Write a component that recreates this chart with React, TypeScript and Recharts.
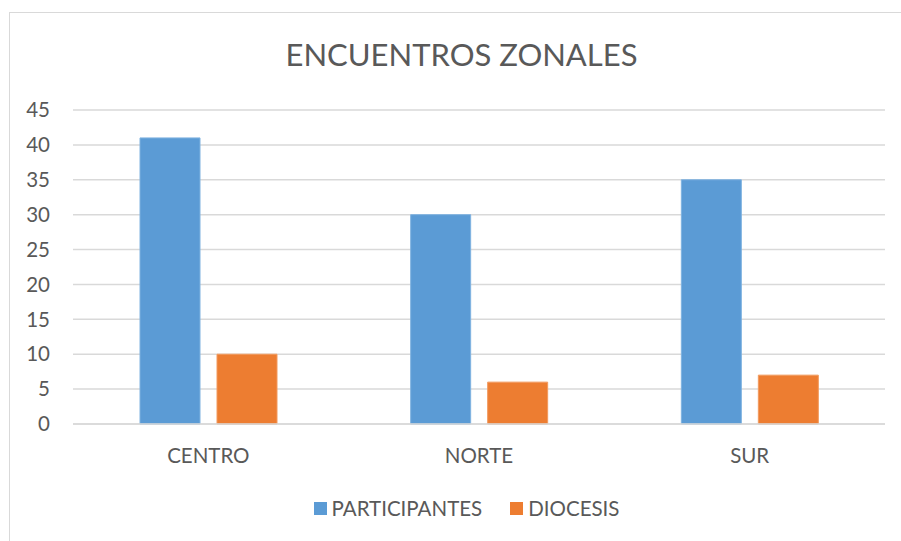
import React from "react";
import { BarChart, Bar, XAxis, YAxis, CartesianGrid, Legend } from "recharts";

const categories = ["CENTRO", "NORTE", "SUR"];
const participantes = [41, 30, 35];
const diocesis = [10, 6, 7];
const yTicks = [0, 5, 10, 15, 20, 25, 30, 35, 40, 45];
const seriesOrder = ["PARTICIPANTES", "DIOCESIS"];

const data = categories.map((c, i) => ({
  name: c,
  PARTICIPANTES: participantes[i],
  DIOCESIS: diocesis[i],
}));

const FONT = "Lato, 'Open Sans', sans-serif";
const TEXT = "#595959";

const renderLegend = (props: any) => {
  const payload = [...(props.payload || [])].sort(
    (a: any, b: any) => seriesOrder.indexOf(a.value) - seriesOrder.indexOf(b.value)
  );
  return (
    <div style={{ display: "flex", justifyContent: "center", alignItems: "center", fontFamily: FONT, height: 24, paddingLeft: 35 }}>
      {payload.map((p: any, i: number) => (
        <div key={i} style={{ display: "flex", alignItems: "center", marginRight: i === 0 ? 28 : 0 }}>
          <div style={{ width: 13, height: 13, background: p.color, marginRight: 5 }} />
          <span style={{ color: TEXT, fontSize: 20.5, lineHeight: "24px" }}>{p.value}</span>
        </div>
      ))}
    </div>
  );
};

export default function App() {
  return (
    <div style={{ position: "absolute", left: 0, top: 0, width: 901, height: 541, overflow: "hidden", background: "#fff" }}>
      <div style={{ position: "absolute", left: 9, top: 12, width: 905, height: 560, border: "1px solid #D9D9D9", boxSizing: "border-box" }} />
      <div style={{ position: "absolute", left: 9, width: 905, top: 32, textAlign: "center", fontFamily: FONT, fontSize: 31, color: TEXT, lineHeight: "44px" }}>
        ENCUENTROS ZONALES
      </div>
      <div style={{ position: "absolute", left: 0, top: 0 }}>
        <BarChart width={901} height={541} data={data} margin={{ top: 110, right: 16, left: 13, bottom: 63 }} barGap={17} barSize={60}>
          <CartesianGrid vertical={false} stroke="#D9D9D9" strokeWidth={1.5} />
          <XAxis
            dataKey="name"
            axisLine={{ stroke: "#D9D9D9", strokeWidth: 1.5 }}
            tickLine={false}
            tickSize={0}
            tickMargin={24}
            tick={{ fill: TEXT, fontSize: 20.5, fontFamily: FONT }}
          />
          <YAxis
            width={60}
            domain={[0, 45]}
            ticks={yTicks}
            interval={0}
            axisLine={false}
            tickLine={false}
            tickSize={0}
            tickMargin={23}
            tick={{ fill: TEXT, fontSize: 20.5, fontFamily: FONT }}
          />
          <Legend verticalAlign="bottom" content={renderLegend} wrapperStyle={{ bottom: 21 }} />
          <Bar dataKey="PARTICIPANTES" fill="#5B9BD5" stroke="#7FB2E0" strokeWidth={1} isAnimationActive={false} />
          <Bar dataKey="DIOCESIS" fill="#ED7D31" stroke="#F29A5E" strokeWidth={1} isAnimationActive={false} />
        </BarChart>
      </div>
    </div>
  );
}
